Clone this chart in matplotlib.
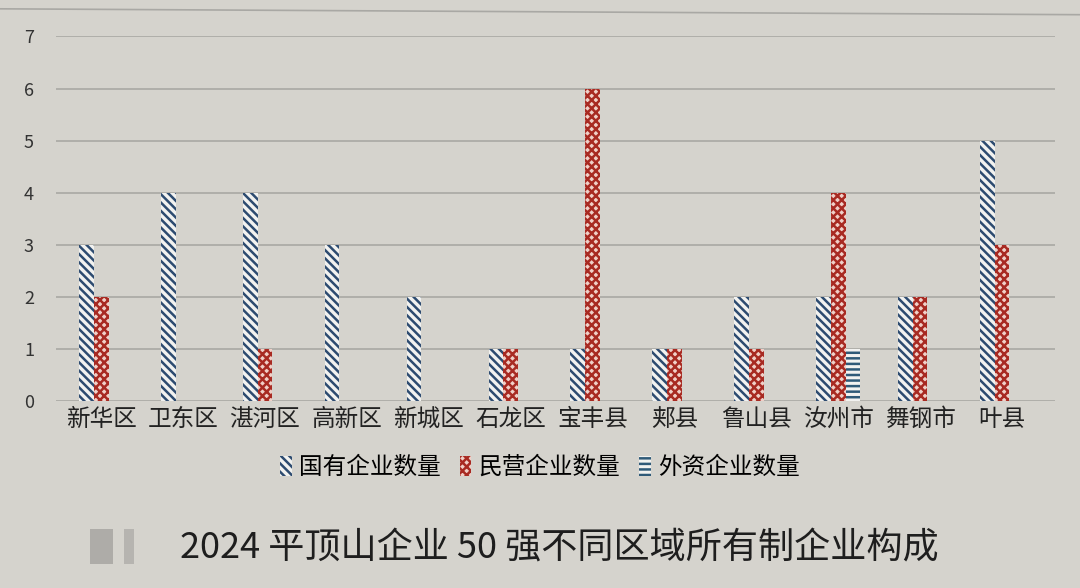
import numpy as np
import matplotlib.pyplot as plt
from matplotlib.patches import Rectangle

plt.rcParams['font.family'] = ['Noto Sans CJK SC', 'DejaVu Sans']
plt.rcParams['hatch.linewidth'] = 1.8

regions = ['新华区', '卫东区', '湛河区', '高新区', '新城区', '石龙区', '宝丰县',
           '郏县', '鲁山县', '汝州市', '舞钢市', '叶县']
state_owned = [3, 4, 4, 3, 2, 1, 1, 1, 2, 2, 2, 5]
private = [2, 0, 1, 0, 0, 1, 6, 1, 1, 4, 2, 3]
foreign = [0, 0, 0, 0, 0, 0, 0, 0, 0, 1, 0, 0]
series_names = ['国有企业数量', '民营企业数量', '外资企业数量']
title = '2024 平顶山企业 50 强不同区域所有制企业构成'

bg = '#d5d3cd'
fig = plt.figure(figsize=(10.8, 5.88), dpi=100, facecolor=bg)
ax = fig.add_axes([0.052, 0.318, 0.925, 0.62])
ax.set_facecolor(bg)

x = np.arange(len(regions))
w = 0.18
b1 = ax.bar(x - w, state_owned, w, facecolor='#f2f2f0', edgecolor='#2d4b70',
            linewidth=0, hatch='\\\\\\\\', label=series_names[0])
b2 = ax.bar(x, private, w, facecolor='#f0d0c8', edgecolor='#a82a22',
            linewidth=0, hatch='xxxx', label=series_names[1])
b3 = ax.bar(x + w, foreign, w, facecolor='#f2f2f0', edgecolor='#2f5a78',
            linewidth=0, hatch='---', label=series_names[2])

ax.set_ylim(0, 7)
ax.set_xlim(-0.55, len(regions) - 0.35)
ax.set_yticks(range(8))
ax.yaxis.grid(True, color='#a9a8a4', linewidth=1.2)
ax.set_axisbelow(True)
for s in ax.spines.values():
    s.set_visible(False)
ax.tick_params(axis='both', length=0)
ax.tick_params(axis='y', labelsize=13, colors='#333333', pad=16)
ax.set_xticks(x)
ax.set_xticklabels(regions, fontsize=17, color='#222222')
ax.tick_params(axis='x', pad=5)

fig.legend(handles=[b1, b2, b3], loc='center', bbox_to_anchor=(0.5, 0.205),
           ncol=3, frameon=False, fontsize=17, handlelength=0.5,
           handleheight=0.9, handletextpad=0.3, columnspacing=0.8)

# top frame line of the printed chart
fig.add_artist(plt.Line2D([0.0, 1.0], [0.985, 0.975], color='#a9a8a4', lw=1.2))

# blurred marks before caption
fig.add_artist(Rectangle((0.083, 0.04), 0.022, 0.06, transform=fig.transFigure,
                         facecolor='#aeaca8', edgecolor='none'))
fig.add_artist(Rectangle((0.115, 0.04), 0.009, 0.06, transform=fig.transFigure,
                         facecolor='#b6b4b0', edgecolor='none'))
fig.text(0.518, 0.068, title, ha='center', va='center', fontsize=26, color='#1e1e1e')

fig.savefig('out.png', dpi=100, facecolor=bg)
